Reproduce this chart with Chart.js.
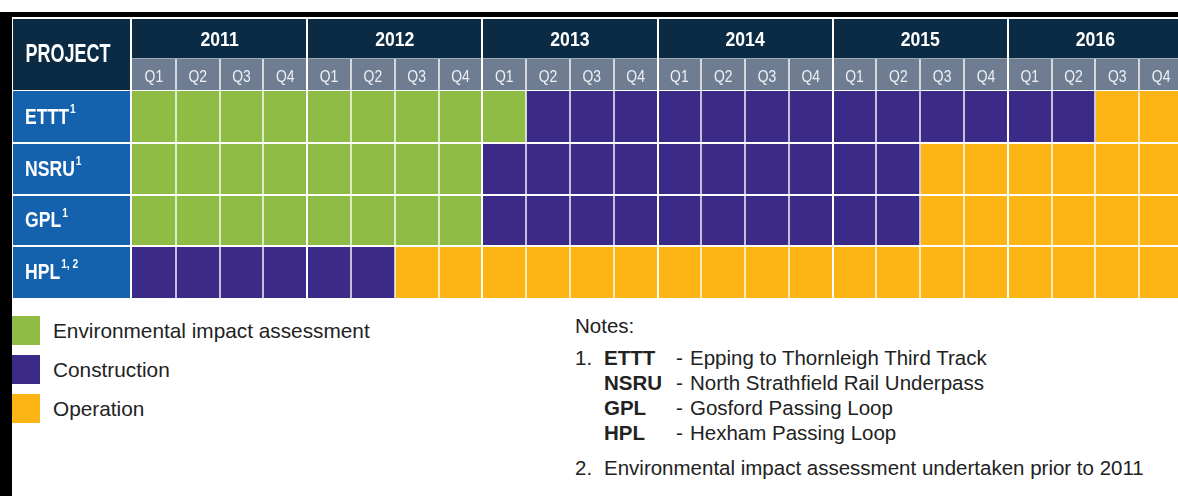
<!DOCTYPE html>
<html lang="en">
<head>
  <meta charset="UTF-8">
  <title>Project timeline</title>
  <script src="https://cdn.jsdelivr.net/npm/chart.js"></script>
  <style>
    html, body {
      margin: 0;
      padding: 0;
      background: #fff;
      overflow: hidden;
      width: 1178px;
      height: 496px;
      font-family: "Liberation Sans", Arial, sans-serif;
    }
    #frame {
      position: absolute;
      left: 0;
      top: 12px;
      width: 1300px;
      height: 600px;
      border-top: 5px solid #000;
      border-left: 12px solid #000;
      box-sizing: border-box;
    }
    #timeline {
      position: absolute;
      left: 13px;
      top: 19px;
    }
    #legend {
      position: absolute;
      left: 12px;
      top: 316px;
    }
    .legend-item {
      display: flex;
      align-items: center;
      height: 29px;
      margin-bottom: 10px;
      font-size: 20.8px;
      color: #222;
    }
    .legend-item span {
      display: inline-block;
      width: 28px;
      height: 29px;
      margin-right: 13px;
    }
    #notes {
      position: absolute;
      left: 575px;
      top: 313px;
      font-size: 20.5px;
      color: #222;
      line-height: 25px;
    }
    #notes .row { display: flex; white-space: nowrap; }
    #notes .num { width: 29px; }
    #notes .term { width: 72px; font-weight: bold; }
    #notes .dash { width: 14px; }
    #notes .gap { height: 7px; }
    #notes .gap2 { height: 10px; }
  </style>
</head>
<body>
  <div id="frame"></div>
  <canvas id="timeline" width="1170" height="280"></canvas>
  <div id="legend"></div>
  <div id="notes">
    <div class="row">Notes:</div>
    <div class="gap"></div>
    <div class="row"><span class="num">1.</span><span class="term">ETTT</span><span class="dash">-</span>Epping to Thornleigh Third Track</div>
    <div class="row"><span class="num"></span><span class="term">NSRU</span><span class="dash">-</span>North Strathfield Rail Underpass</div>
    <div class="row"><span class="num"></span><span class="term">GPL</span><span class="dash">-</span>Gosford Passing Loop</div>
    <div class="row"><span class="num"></span><span class="term">HPL</span><span class="dash">-</span>Hexham Passing Loop</div>
    <div class="gap2"></div>
    <div class="row"><span class="num">2.</span>Environmental impact assessment undertaken prior to 2011</div>
  </div>

  <script>
    const years = ['2011', '2012', '2013', '2014', '2015', '2016'];
    const quarters = ['Q1', 'Q2', 'Q3', 'Q4'];
    const projects = ['ETTT', 'NSRU', 'GPL', 'HPL'];
    const projectNotes = ['1', '1', '1', '1, 2'];

    // spans in quarters counted from 2011 Q1 (0) to end of 2016 Q4 (24)
    const eiaSpans = [[0, 9], [0, 8], [0, 8], null];
    const constructionSpans = [[9, 22], [8, 18], [8, 18], [0, 6]];
    const operationSpans = [[22, 24], [18, 24], [18, 24], [6, 24]];

    const phaseNames = ['Environmental impact assessment', 'Construction', 'Operation'];
    const phaseColors = ['#8fbc45', '#3c2a88', '#fdb515'];

    const headFont = '"Liberation Sans", Arial, sans-serif';

    // squeeze the text horizontally to fake a condensed face
    function narrowText(ctx, text, x, y, align, squeeze) {
      ctx.save();
      ctx.translate(x, y);
      ctx.scale(squeeze, 1);
      ctx.textAlign = align;
      ctx.fillText(text, 0, 0);
      ctx.restore();
    }

    const tableFrame = {
      id: 'tableFrame',
      beforeDraw(chart) {
        const { ctx, chartArea: a } = chart;
        const colRight = a.left - 2;
        ctx.save();
        ctx.fillStyle = '#0b2b45';
        ctx.fillRect(0, 0, colRight, 71);
        ctx.fillRect(a.left, 0, a.right - a.left, 40);
        ctx.fillStyle = '#6e7d92';
        ctx.fillRect(a.left, 40, a.right - a.left, 31);
        ctx.fillStyle = '#1461ae';
        ctx.fillRect(0, a.top, colRight, a.bottom - a.top);
        ctx.restore();
      },
      afterDatasetsDraw(chart) {
        const { ctx, chartArea: a, scales: { x, y } } = chart;
        const band = (a.bottom - a.top) / projects.length;
        ctx.save();
        for (let i = 1; i < years.length * 4; i++) {
          const px = Math.round(x.getPixelForValue(i));
          const isYear = i % 4 === 0;
          ctx.fillStyle = isYear ? '#ffffff' : 'rgba(255,255,255,0.7)';
          ctx.fillRect(px - 1, isYear ? 0 : 40, 2, a.bottom - (isYear ? 0 : 40));
        }
        ctx.fillStyle = '#ffffff';
        for (let r = 1; r < projects.length; r++) {
          const py = Math.round(a.top + band * r);
          ctx.fillRect(0, py - 1, a.right, 2);
        }
        ctx.fillRect(a.left - 2, 0, 2, a.bottom);
        ctx.fillStyle = 'rgba(255,255,255,0.6)';
        ctx.fillRect(a.left, 39, a.right - a.left, 1);
        ctx.fillStyle = '#ffffff';
        ctx.fillRect(0, 71, a.right, 1);

        ctx.fillStyle = '#ffffff';
        ctx.textBaseline = 'middle';
        ctx.font = 'bold 25px ' + headFont;
        narrowText(ctx, 'PROJECT', 55, 36, 'center', 0.72);

        ctx.font = 'bold 21px ' + headFont;
        years.forEach((yr, i) => {
          const cx = (x.getPixelForValue(i * 4) + x.getPixelForValue(i * 4 + 4)) / 2;
          narrowText(ctx, yr, cx, 21, 'center', 0.84);
        });

        ctx.fillStyle = '#eef1f5';
        ctx.font = '17px ' + headFont;
        years.forEach((yr, i) => {
          quarters.forEach((q, j) => {
            narrowText(ctx, q, x.getPixelForValue(i * 4 + j + 0.5), 58, 'center', 0.82);
          });
        });

        ctx.fillStyle = '#ffffff';
        projects.forEach((p, r) => {
          const cy = y.getPixelForValue(r);
          ctx.font = 'bold 22px ' + headFont;
          narrowText(ctx, p, 12, cy + 1, 'left', 0.8);
          const w = ctx.measureText(p).width * 0.8;
          ctx.font = 'bold 12px ' + headFont;
          narrowText(ctx, projectNotes[r], 12 + w + 1, cy - 7, 'left', 0.85);
        });
        ctx.restore();
      }
    };

    const spanSets = [eiaSpans, constructionSpans, operationSpans];

    new Chart(document.getElementById('timeline'), {
      type: 'bar',
      data: {
        labels: projects,
        datasets: spanSets.map((spans, i) => ({
          label: phaseNames[i],
          data: spans,
          backgroundColor: phaseColors[i],
          borderWidth: 0,
          grouped: false,
          barPercentage: 1,
          categoryPercentage: 1
        }))
      },
      options: {
        indexAxis: 'y',
        responsive: false,
        animation: false,
        devicePixelRatio: 1,
        layout: { padding: { left: 119, top: 72, right: 0, bottom: 1 } },
        scales: {
          x: { type: 'linear', min: 0, max: years.length * 4, display: false },
          y: { display: false }
        },
        plugins: {
          legend: { display: false },
          tooltip: { enabled: false }
        }
      },
      plugins: [tableFrame]
    });

    const legendBox = document.getElementById('legend');
    phaseNames.forEach((name, i) => {
      const item = document.createElement('div');
      item.className = 'legend-item';
      const sw = document.createElement('span');
      sw.style.background = phaseColors[i];
      item.appendChild(sw);
      item.appendChild(document.createTextNode(name));
      legendBox.appendChild(item);
    });
  </script>
</body>
</html>
